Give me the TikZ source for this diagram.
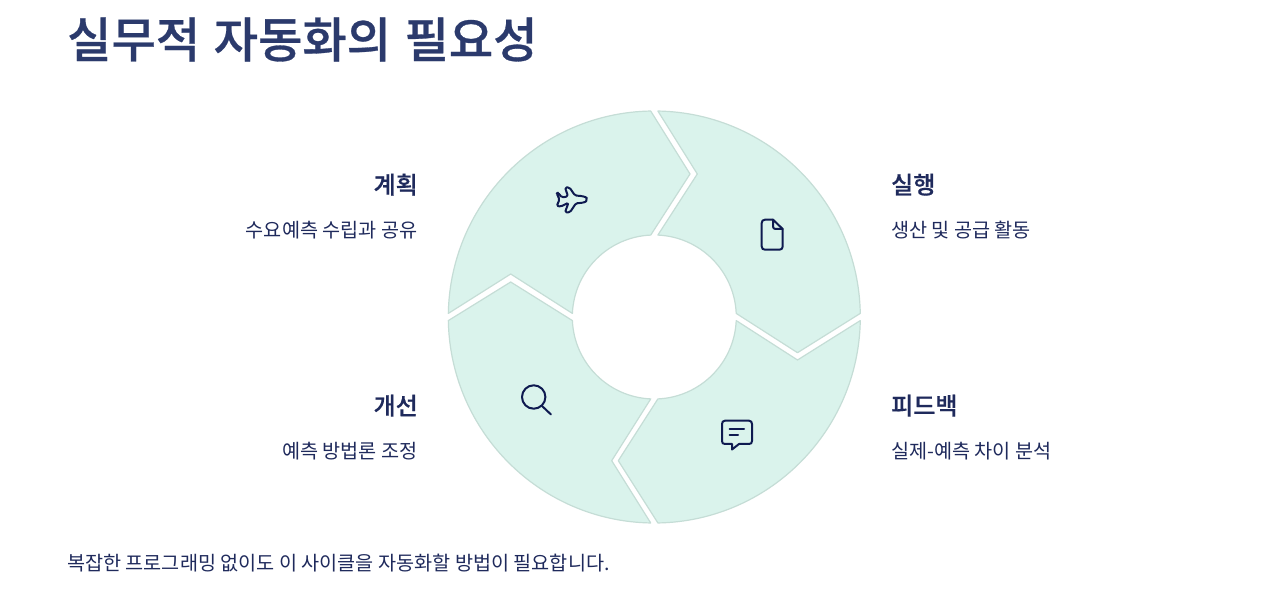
\documentclass[tikz,border=0pt]{standalone}
\usepackage{fontspec}
\setmainfont{Noto Sans CJK KR}
\newfontfamily\semib{Noto Sans CJK KR Medium}[FakeBold=0.6]
\definecolor{segfill}{HTML}{DAF3EC}
\definecolor{segline}{HTML}{C5DDD6}
\definecolor{titlecol}{HTML}{2B3A6C}
\definecolor{headcol}{HTML}{1F2A5C}
\definecolor{bodycol}{HTML}{1F2A5C}
\definecolor{iconcol}{HTML}{0E1A50}
\tikzset{
  seg/.style={fill=segfill,draw=segline,line width=1.2pt,line join=round},
  icon/.style={draw=iconcol,line width=2pt,line join=round,line cap=round},
  titletext/.style={anchor=west,inner sep=0pt,font=\semib\fontsize{48.2}{50}\selectfont,text=titlecol},
  headl/.style={inner sep=0pt,font=\semib\fontsize{24}{28}\selectfont,text=headcol},
  bodyl/.style={inner sep=0pt,font=\fontsize{19.65}{24}\selectfont,text=bodycol}
}
\begin{document}
\begin{tikzpicture}[x=1pt,y=1pt]
\useasboundingbox (0,0) rectangle (1280,597);
\fill[white] (0,0) rectangle (1280,597);
\begin{scope}[shift={(654.3,280)}]
  \path[seg] (91:206) arc[start angle=91,end angle=179,radius=206] -- (-143.6,43) -- (177.5:82) arc[start angle=177.5,end angle=92.5,radius=82] -- (35.7,143) -- cycle;
  \path[seg] (89:206) arc[start angle=89,end angle=1,radius=206] -- (143.2,-35.7) -- (2.5:82) arc[start angle=2.5,end angle=87.5,radius=82] -- (43,143) -- cycle;
  \path[seg] (-1:206) arc[start angle=-1,end angle=-89,radius=206] -- (-36,-143.7) -- (-87.5:82) arc[start angle=-87.5,end angle=-2.5,radius=82] -- (143.2,-43) -- cycle;
  \path[seg] (-91:206) arc[start angle=-91,end angle=-179,radius=206] -- (-143.6,35) -- (-177.5:82) arc[start angle=-177.5,end angle=-92.5,radius=82] -- (-42.6,-143.7) -- cycle;
\end{scope}
\begin{scope}[shift={(0,597)},y=-1pt]
  % plane
  \path[icon,rounded corners=1.5pt] (586.7,199.3) .. controls (586,197) and (583,196) .. (575,195.5) -- (569.5,187.5) -- (565,187.5) -- (568,196.3) -- (562,197.5) -- (558,192.7) -- (556.7,193.5) -- (559.5,199.5) -- (556.7,206) -- (561,206.5) -- (568.5,202.7) -- (565,212.3) -- (570,212.3) -- (576,203.2) .. controls (583,203) and (586,202) .. (586.7,199.3) -- cycle;
  % file
  \path[icon] (773,219.7) -- (765,219.7) .. controls (763,219.7) and (761.7,221) .. (761.7,223) -- (761.7,246.5) .. controls (761.7,248.5) and (763,249.7) .. (765,249.7) -- (779.5,249.7) .. controls (781.5,249.7) and (782.7,248.5) .. (782.7,246.5) -- (782.7,229) -- cycle;
  \path[icon] (773,219.7) -- (773,226.5) .. controls (773,228) and (774,229) .. (775.5,229) -- (782.7,229);
  % search
  \path[icon] (533.7,397) circle[radius=11.7];
  \path[icon] (542,406) -- (551,414.5);
  % chat
  \path[icon] (725,420.7) -- (749,420.7) .. controls (751,420.7) and (752,422) .. (752,424) -- (752,441) .. controls (752,443) and (751,444) .. (749,444) -- (739,444) -- (732,449.5) -- (732,444) -- (725,444) .. controls (723,444) and (722,443) .. (722,441) -- (722,424) .. controls (722,422) and (723,420.7) .. (725,420.7) -- cycle;
  \path[icon] (729.5,428.7) -- (744,428.7);
  \path[icon] (729.5,434.7) -- (738,434.7);
  % texts
  \node[titletext] (title) at (67,39.5) {실무적\hspace{0.28em}자동화의\hspace{0.28em}필요성};
  \node[headl,anchor=east] (h1) at (418,184.7) {계획};
  \node[bodyl,anchor=east] (b1) at (417.6,230) {수요예측 수립과 공유};
  \node[headl,anchor=west] (h2) at (891,184.7) {실행};
  \node[bodyl,anchor=west] (b2) at (891,230) {생산 및 공급 활동};
  \node[headl,anchor=east] (h4) at (418,405.7) {개선};
  \node[bodyl,anchor=east] (b4) at (417.6,451) {예측 방법론 조정};
  \node[headl,anchor=west] (h3) at (891,405.7) {피드백};
  \node[bodyl,anchor=west] (b3) at (891,451) {실제-예측 차이 분석};
  \node[bodyl,anchor=west] (foot) at (67,563.5) {복잡한 프로그래밍 없이도 이 사이클을 자동화할 방법이 필요합니다.};
\end{scope}
\end{tikzpicture}
\end{document}
